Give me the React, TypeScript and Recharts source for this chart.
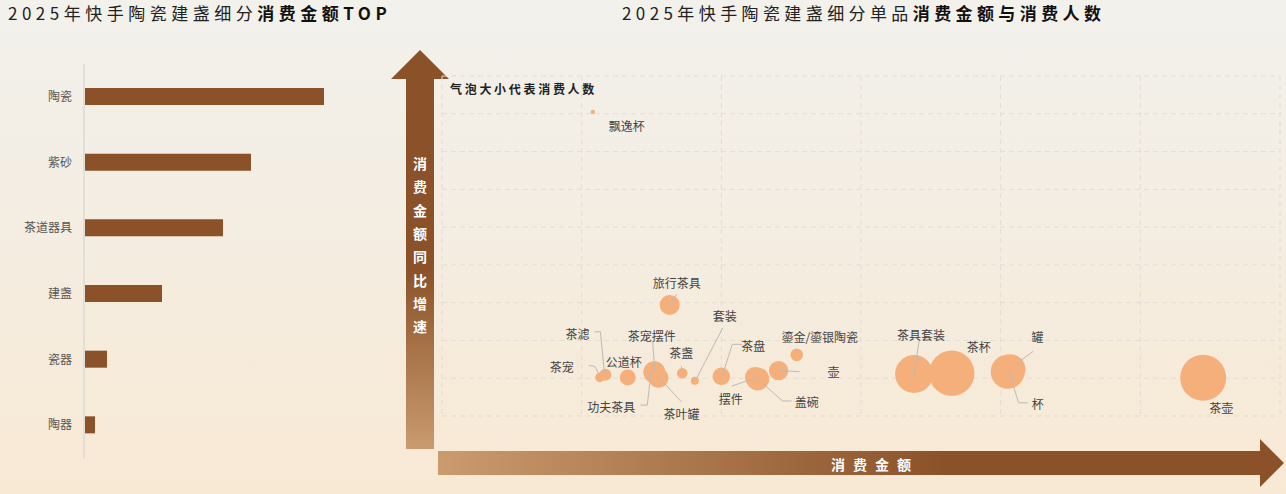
import React from "react";
import {
  BarChart,
  Bar,
  XAxis,
  YAxis,
  ScatterChart,
  Scatter,
  ZAxis,
  CartesianGrid,
  LabelList,
} from "recharts";

// 细分类目消费金额
const categories = ["陶瓷", "紫砂", "茶道器具", "建盏", "瓷器", "陶器"];
const categoryAmount = [240, 167, 139, 78, 23, 11];

// 单品：消费金额 / 同比增速(%) / 消费人数
const itemNames = [
  "飘逸杯", "旅行茶具", "茶宠", "茶滤", "公道杯", "功夫茶具", "茶宠摆件", "茶叶罐", "茶盏", "套装",
  "茶盘", "摆件", "盖碗", "壶", "鎏金/鎏银陶瓷", "茶具套装", "茶杯", "罐", "杯", "茶壶",
];
const itemAmount = [108, 163, 113, 117, 133, 152, 153, 155, 172, 181, 200, 224, 226, 241, 254, 338, 365, 407, 405, 545];
const itemGrowth = [705, 194, 2, 9, 2, 16, 22, 1, 13, -7, 5, 3, -2, 20, 62, 11, 13, 24, 17, 1];
const itemBuyers = [50, 1000, 220, 360, 640, 1210, 640, 1000, 280, 160, 760, 1000, 1320, 940, 400, 3610, 5150, 2250, 2890, 5290];

const xTicks = [0, 100, 200, 300, 400, 500, 600];
const yTicks = [-100, 0, 100, 200, 300, 400, 500, 600, 700, 800];

const FONT = '"Noto Sans CJK SC", "Noto Sans", sans-serif';
const BROWN = "#8B5229";
const LIGHT_BROWN = "#C99B6E";
const BUBBLE = "#F5AF7B";

const barData = categories.map((name, i) => ({ name, value: categoryAmount[i] }));
const bubbleData = itemNames.map((name, i) => ({
  name,
  x: itemAmount[i],
  y: itemGrowth[i],
  z: itemBuyers[i],
}));

// label placement relative to bubble centre, with leader lines
const labelLayout: Record<string, { dx: number; dy: number; line?: number[][] }> = {
  飘逸杯: { dx: 34, dy: 14 },
  旅行茶具: { dx: 7, dy: -22, line: [[7, -11], [0, 0]] },
  茶宠: { dx: -38, dy: -11, line: [[-11, -12], [-5, -11], [0, -2]] },
  茶滤: { dx: -28, dy: -41, line: [[-11, -43], [-5, -43], [-1, -2]] },
  公道杯: { dx: -4, dy: -16 },
  茶宠摆件: { dx: -4, dy: -34, line: [[-3, -28], [-1, 0]] },
  功夫茶具: { dx: -43, dy: 34, line: [[-14, 33], [-7, 33], [-3, -2]] },
  茶叶罐: { dx: 23, dy: 36, line: [[23, 24], [-1, -2]] },
  茶盏: { dx: -1, dy: -21, line: [[-1, -7], [0, -3]] },
  套装: { dx: 30, dy: -65, line: [[28, -53], [2, -3]] },
  茶盘: { dx: 32, dy: -31, line: [[21, -32], [11, -32], [1, -1]] },
  摆件: { dx: -24, dy: 21, line: [[-23, 9], [0, 1]] },
  盖碗: { dx: 49, dy: 23, line: [[0, 0], [25, 22], [34, 22]] },
  壶: { dx: 55, dy: 1, line: [[0, 0], [21, 1]] },
  "鎏金/鎏银陶瓷": { dx: 23, dy: -18 },
  茶具套装: { dx: 7, dy: -40, line: [[5, -33], [0, 0]] },
  茶杯: { dx: 27, dy: -27 },
  罐: { dx: 27, dy: -33, line: [[23, -18], [4, -4]] },
  杯: { dx: 30, dy: 32, line: [[1, -1], [11, 31], [20, 31]] },
  茶壶: { dx: 18, dy: 30 },
};

const BubbleLabel = (props: any) => {
  const vb = props.viewBox || props;
  const cx = vb.x + vb.width / 2;
  const cy = vb.y + vb.height / 2;
  const name = props.value ?? itemNames[props.index];
  const lay = labelLayout[name];
  if (!lay || isNaN(cx)) return null;
  return (
    <g>
      {lay.line && (
        <polyline
          points={lay.line.map((p) => `${cx + p[0]},${cy + p[1]}`).join(" ")}
          fill="none"
          stroke="#bdbab5"
          strokeWidth={1}
        />
      )}
      <text
        x={cx + lay.dx}
        y={cy + lay.dy}
        textAnchor="middle"
        dominantBaseline="central"
        fontSize={12}
        fill="#444"
        fontFamily={FONT}
      >
        {name}
      </text>
    </g>
  );
};

const yAxisTitle = "消费金额同比增速".split("");

export default function App() {
  return (
    <div
      style={{
        position: "absolute",
        left: 0,
        top: 0,
        width: 1286,
        height: 494,
        overflow: "hidden",
        fontFamily: FONT,
        background: "linear-gradient(180deg, #F2F1EC 0%, #F4EDE2 45%, #F8E9D4 100%)",
      }}
    >
      <div
        style={{
          position: "absolute",
          left: 8,
          top: 1,
          fontSize: 17,
          lineHeight: "24px",
          letterSpacing: 4.5,
          color: "#222",
          whiteSpace: "nowrap",
        }}
      >
        2025年快手陶瓷建盏细分<b style={{ color: "#111" }}>消费金额TOP</b>
      </div>
      <div
        style={{
          position: "absolute",
          left: 622,
          top: 1,
          fontSize: 17,
          lineHeight: "24px",
          letterSpacing: 4.4,
          color: "#222",
          whiteSpace: "nowrap",
        }}
      >
        2025年快手陶瓷建盏细分单品<b style={{ color: "#111" }}>消费金额与消费人数</b>
      </div>

      <svg width={1286} height={494} style={{ position: "absolute", left: 0, top: 0 }}>
        <defs>
          <linearGradient id="vArrow" x1="0" y1="0" x2="0" y2="1">
            <stop offset="0%" stopColor={BROWN} />
            <stop offset="55%" stopColor={BROWN} />
            <stop offset="100%" stopColor={LIGHT_BROWN} />
          </linearGradient>
          <linearGradient id="hArrow" x1="0" y1="0" x2="1" y2="0">
            <stop offset="0%" stopColor={LIGHT_BROWN} />
            <stop offset="60%" stopColor={BROWN} />
            <stop offset="100%" stopColor={BROWN} />
          </linearGradient>
        </defs>
        <path d="M406,79 L391,79 L420,50 L449,79 L434,79 L434,449 L406,449 Z" fill="url(#vArrow)" />
        <path d="M438,451 L1260,451 L1260,439 L1284,463 L1260,487 L1260,475 L438,475 Z" fill="url(#hArrow)" />
        {yAxisTitle.map((ch, i) => (
          <text
            key={i}
            x={420}
            y={163 + i * 23.3}
            textAnchor="middle"
            dominantBaseline="central"
            fontSize={14}
            fontWeight="bold"
            fill="#fff"
            fontFamily={FONT}
          >
            {ch}
          </text>
        ))}
        <text
          x={875}
          y={464}
          textAnchor="middle"
          dominantBaseline="central"
          fontSize={14}
          fontWeight="bold"
          fill="#fff"
          letterSpacing={8}
          fontFamily={FONT}
        >
          消费金额
        </text>
      </svg>

      <div style={{ position: "absolute", left: 0, top: 0 }}>
        <BarChart
          width={330}
          height={494}
          data={barData}
          layout="vertical"
          margin={{ top: 64, right: 6, bottom: 36, left: 0 }}
        >
          <XAxis type="number" domain={[0, 240]} hide />
          <YAxis
            type="category"
            dataKey="name"
            width={84}
            tickLine={false}
            tickSize={0}
            tickMargin={12}
            axisLine={{ stroke: "#e2ded8", strokeWidth: 2 }}
            tick={{ fontSize: 12, fill: "#555", fontFamily: FONT }}
          />
          <Bar dataKey="value" fill={BROWN} barSize={17} isAnimationActive={false} />
        </BarChart>
      </div>

      <div style={{ position: "absolute", left: 380, top: 0 }}>
        <ScatterChart
          width={906}
          height={494}
          margin={{ top: 76, right: 6, bottom: 78, left: 62 }}
        >
          <CartesianGrid stroke="#e3ddd4" strokeDasharray="5 4" />
          <XAxis type="number" dataKey="x" domain={[0, 600]} ticks={xTicks} hide />
          <YAxis type="number" dataKey="y" domain={[-100, 800]} ticks={yTicks} hide />
          <ZAxis type="number" dataKey="z" domain={[0, 5290]} range={[0, 1662]} />
          <Scatter data={bubbleData} fill={BUBBLE} isAnimationActive={false}>
            <LabelList dataKey="name" content={BubbleLabel} />
          </Scatter>
        </ScatterChart>
      </div>

      <svg width={300} height={30} style={{ position: "absolute", left: 440, top: 74 }}>
        <text
          x={10}
          y={14.5}
          dominantBaseline="central"
          fontSize={12}
          fontWeight="bold"
          fill="#222"
          letterSpacing={2.7}
          fontFamily={FONT}
        >
          气泡大小代表消费人数
        </text>
      </svg>
    </div>
  );
}
